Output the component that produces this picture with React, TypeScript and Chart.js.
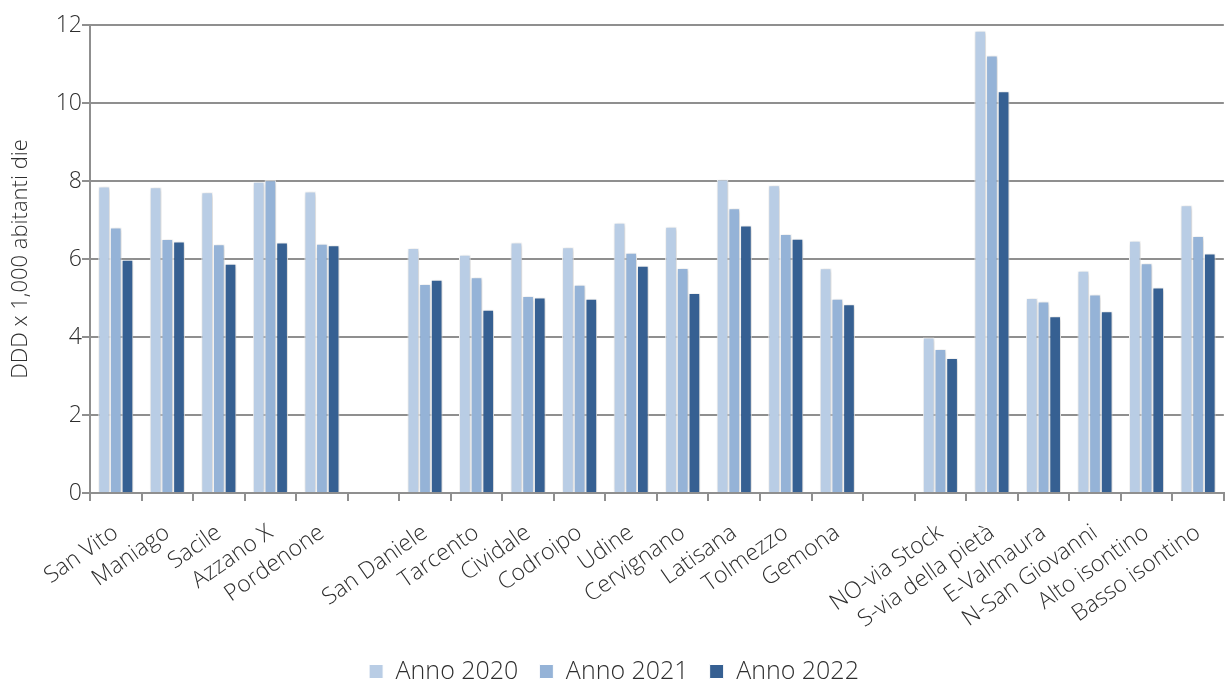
import React, { useEffect, useRef } from "react";
import { Chart, registerables } from "chart.js";

Chart.register(...registerables);

const categories: string[] = [
  "San Vito", "Maniago", "Sacile", "Azzano X", "Pordenone", "",
  "San Daniele", "Tarcento", "Cividale", "Codroipo", "Udine", "Cervignano", "Latisana", "Tolmezzo", "Gemona", "",
  "NO-via Stock", "S-via della pietà", "E-Valmaura", "N-San Giovanni", "Alto isontino", "Basso isontino",
];

const anno2020: (number | null)[] = [
  7.86, 7.84, 7.71, 7.98, 7.73, null,
  6.28, 6.11, 6.42, 6.30, 6.93, 6.83, 8.04, 7.89, 5.76, null,
  3.99, 11.85, 5.00, 5.70, 6.47, 7.38,
];
const anno2021: (number | null)[] = [
  6.81, 6.51, 6.38, 8.02, 6.39, null,
  5.36, 5.53, 5.05, 5.34, 6.16, 5.77, 7.30, 6.64, 4.98, null,
  3.69, 11.22, 4.91, 5.09, 5.89, 6.59,
];
const anno2022: (number | null)[] = [
  5.98, 6.45, 5.88, 6.42, 6.35, null,
  5.47, 4.70, 5.01, 4.98, 5.83, 5.13, 6.86, 6.52, 4.84, null,
  3.46, 10.30, 4.53, 4.66, 5.27, 6.14,
];

const seriesNames = ["Anno 2020", "Anno 2021", "Anno 2022"];
const seriesColors = ["#B9CDE5", "#95B3D7", "#366092"];
const yTicks = [0, 2, 4, 6, 8, 10, 12];

const FONT = "'Open Sans', 'Noto Sans', sans-serif";
const TEXT = "#2e2e2e";
const AXIS = "#8f8f8f";

const shadowPlugin = {
  id: "barShadow",
  beforeDatasetsDraw(chart: any) {
    const ctx = chart.ctx;
    ctx.save();
    ctx.shadowColor = "rgba(0,0,0,0.22)";
    ctx.shadowBlur = 4;
    ctx.shadowOffsetX = 1;
    ctx.shadowOffsetY = 1;
  },
  afterDatasetsDraw(chart: any) {
    chart.ctx.restore();
  },
};

export default function App() {
  const ref = useRef<HTMLCanvasElement | null>(null);

  useEffect(() => {
    if (!ref.current) return;
    const seriesData = [anno2020, anno2021, anno2022];
    const chart = new Chart(ref.current, {
      type: "bar",
      data: {
        labels: categories,
        datasets: seriesData.map((d, i) => ({
          label: seriesNames[i],
          data: d,
          backgroundColor: seriesColors[i],
          borderColor: "#ffffff",
          borderWidth: 1,
          categoryPercentage: 0.68,
          barPercentage: 1,
        })),
      },
      plugins: [shadowPlugin],
      options: {
        responsive: false,
        animation: false,
        maintainAspectRatio: false,
        layout: { padding: { top: 25, right: 4, bottom: -10, left: 0 } },
        plugins: {
          tooltip: { enabled: false },
          legend: {
            position: "bottom",
            labels: {
              boxWidth: 14,
              boxHeight: 14,
              padding: 21,
              color: TEXT,
              font: { family: FONT, size: 25, weight: 300 },
            },
          },
        },
        scales: {
          x: {
            offset: true,
            afterFit(scale: any) {
              scale.height = 145;
            },
            grid: {
              display: true,
              offset: true,
              drawOnChartArea: false,
              drawTicks: true,
              tickLength: 8,
              color: AXIS,
              lineWidth: 2,
            },
            border: { display: true, color: AXIS, width: 2 },
            ticks: {
              autoSkip: false,
              minRotation: 35,
              maxRotation: 35,
              padding: 18,
              color: TEXT,
              font: { family: FONT, size: 23, weight: 300 },
            },
          },
          y: {
            min: 0,
            max: 12,
            afterFit(scale: any) {
              scale.width = 90;
            },
            afterBuildTicks(scale: any) {
              scale.ticks = yTicks.map((v) => ({ value: v }));
            },
            grid: {
              color: AXIS,
              lineWidth: 2,
              drawTicks: true,
              tickLength: 8,
            },
            border: { display: true, color: AXIS, width: 2 },
            ticks: {
              padding: 0,
              color: TEXT,
              font: { family: FONT, size: 23, weight: 300 },
            },
            title: {
              display: true,
              text: "DDD x 1,000 abitanti die",
              color: TEXT,
              font: { family: FONT, size: 22, weight: 300 },
              padding: { top: 8, bottom: 0 },
            },
          },
        },
      },
    });
    return () => chart.destroy();
  }, []);

  return (
    <div style={{ position: "fixed", left: 0, top: 0, width: 1232, height: 684, background: "#fff" }}>
      <canvas ref={ref} width={1232} height={684} style={{ width: 1232, height: 684 }} />
    </div>
  );
}
